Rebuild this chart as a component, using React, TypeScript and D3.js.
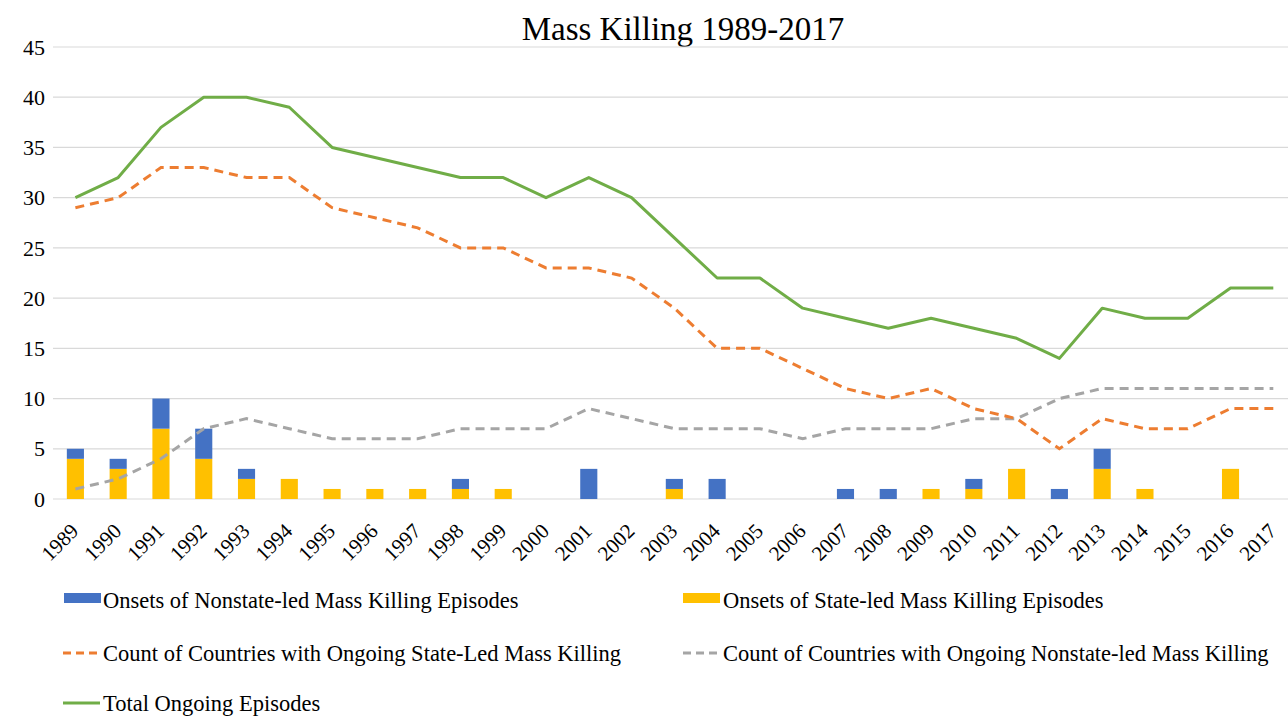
import React from "react";
import * as d3 from "d3";

const years = ["1989","1990","1991","1992","1993","1994","1995","1996","1997","1998","1999","2000","2001","2002","2003","2004","2005","2006","2007","2008","2009","2010","2011","2012","2013","2014","2015","2016","2017"];
const stateOnsets = [4,3,7,4,2,2,1,1,1,1,1,0,0,0,1,0,0,0,0,0,1,1,3,0,3,1,0,3,0];
const nonstateOnsets = [1,1,3,3,1,0,0,0,0,1,0,0,3,0,1,2,0,0,1,1,0,1,0,1,2,0,0,0,0];
const stateOngoing = [29,30,33,33,32,32,29,28,27,25,25,23,23,22,19,15,15,13,11,10,11,9,8,5,8,7,7,9,9];
const nonstateOngoing = [1,2,4,7,8,7,6,6,6,7,7,7,9,8,7,7,7,6,7,7,7,8,8,10,11,11,11,11,11];
const totalOngoing = [30,32,37,40,40,39,35,34,33,32,32,30,32,30,26,22,22,19,18,17,18,17,16,14,19,18,18,21,21];
const yTicks = [0,5,10,15,20,25,30,35,40,45];

const W = 1288, H = 717;
const FONT = "'Liberation Serif', 'Times New Roman', serif";
const C = { blue: "#4472C4", yellow: "#FFC000", orange: "#ED7D31", gray: "#A5A5A5", green: "#70AD47", grid: "#D9D9D9" };

export default function App() {
  const x = d3.scaleBand<string>().domain(years).range([54, 1294.7]).paddingInner(0.6).paddingOuter(0.3);
  const y = d3.scaleLinear().domain([0, 45]).range([499, 47]);
  const cx = (i: number) => (x(years[i]) as number) + x.bandwidth() / 2;
  const line = (vals: number[]) =>
    d3.line<number>().x((_, i) => cx(i)).y((v) => y(v))(vals) as string;

  return (
    <svg width={W} height={H} style={{ position: "absolute", left: 0, top: 0, background: "#fff" }} fontFamily={FONT}>
      <text x={683} y={28} dy="0.35em" textAnchor="middle" fontSize={33} fill="#000">Mass Killing 1989-2017</text>
      {yTicks.map((t) => (
        <g key={t}>
          <line x1={53} x2={W} y1={y(t)} y2={y(t)} stroke={C.grid} strokeWidth={1.2} />
          <text x={45} y={y(t)} dy="0.35em" textAnchor="end" fontSize={22} fill="#000">{t}</text>
        </g>
      ))}
      {years.map((yr, i) => (
        <g key={yr}>
          {stateOnsets[i] > 0 && (
            <rect x={x(yr)} width={x.bandwidth()} y={y(stateOnsets[i])} height={y(0) - y(stateOnsets[i])} fill={C.yellow} />
          )}
          {nonstateOnsets[i] > 0 && (
            <rect x={x(yr)} width={x.bandwidth()} y={y(stateOnsets[i] + nonstateOnsets[i])} height={y(stateOnsets[i]) - y(stateOnsets[i] + nonstateOnsets[i])} fill={C.blue} />
          )}
          <text transform={`translate(${cx(i) - 6},${522}) rotate(-45)`} textAnchor="end" dy="0.7em" fontSize={21} fill="#000">{yr}</text>
        </g>
      ))}
      <path d={line(nonstateOngoing)} fill="none" stroke={C.gray} strokeWidth={3} strokeDasharray="9,6" />
      <path d={line(stateOngoing)} fill="none" stroke={C.orange} strokeWidth={3} strokeDasharray="9,6" />
      <path d={line(totalOngoing)} fill="none" stroke={C.green} strokeWidth={3} strokeLinejoin="round" />

      <g fontSize={22.5} fill="#000">
        <rect x={64} y={593} width={37} height={10} fill={C.blue} />
        <text x={103} y={600} dy="0.35em">Onsets of Nonstate-led Mass Killing Episodes</text>
        <rect x={683} y={593} width={37} height={10} fill={C.yellow} />
        <text x={723} y={600} dy="0.35em">Onsets of State-led Mass Killing Episodes</text>
        <line x1={63} x2={100} y1={653} y2={653} stroke={C.orange} strokeWidth={3} strokeDasharray="8,5" />
        <text x={103} y={653} dy="0.35em">Count of Countries with Ongoing State-Led Mass Killing</text>
        <line x1={683} x2={720} y1={653} y2={653} stroke={C.gray} strokeWidth={3} strokeDasharray="8,5" />
        <text x={723} y={653} dy="0.35em">Count of Countries with Ongoing Nonstate-led Mass Killing</text>
        <line x1={63} x2={100} y1={703} y2={703} stroke={C.green} strokeWidth={3} />
        <text x={103} y={703} dy="0.35em">Total Ongoing Episodes</text>
      </g>
    </svg>
  );
}
